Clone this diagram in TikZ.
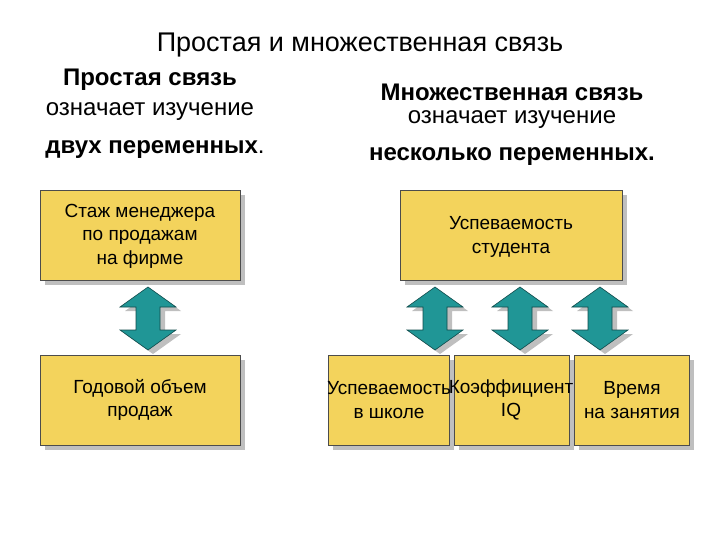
\documentclass[tikz,border=0pt]{standalone}
\usepackage{fontspec}
\setmainfont{Liberation Sans}
\begin{document}
\begin{tikzpicture}[x=1pt,y=-1pt,
  box/.style={draw=black!70,line width=0.6pt,fill=boxy,minimum height=90pt,inner sep=0pt,anchor=north west},
  btxt/.style={align=center,font=\fontsize{19}{23.5}\selectfont,inner sep=0pt},
  hdr/.style={font=\fontsize{24}{28}\selectfont,anchor=center}]
\definecolor{boxy}{RGB}{243,211,92}
\definecolor{teal1}{RGB}{32,150,150}
\useasboundingbox (0,0) rectangle (720,540);
\newcommand{\shbox}[5]{% name, x, y, w
  \fill[black!25] (#2+5,#3+5) rectangle ++(#4,90);
  \node[box,minimum width=#4] (#1) at (#2,#3) {};}
\newcommand{\dblarrow}[3]{% cx, ytop, ybot
  \fill[black!25,shift={(5,4)}] (#1,#2) -- (#1+28,#2+20) -- (#1+12,#2+20) -- (#1+12,#3-20) -- (#1+28,#3-20) -- (#1,#3) -- (#1-28,#3-20) -- (#1-12,#3-20) -- (#1-12,#2+20) -- (#1-28,#2+20) -- cycle;
  \draw[fill=teal1,draw=teal1!50!black,line width=0.6pt] (#1,#2) -- (#1+28,#2+20) -- (#1+12,#2+20) -- (#1+12,#3-20) -- (#1+28,#3-20) -- (#1,#3) -- (#1-28,#3-20) -- (#1-12,#3-20) -- (#1-12,#2+20) -- (#1-28,#2+20) -- cycle;}
\node[font=\fontsize{27}{30}\selectfont] (title) at (360,45) {Простая и множественная связь};
\node[hdr] (l1) at (150,80) {\bfseries Простая связь};
\node[hdr] (l2) at (150,112) {означает изучение};
\node[hdr] (l3) at (155,150) {\bfseries двух переменных\mdseries.};
\node[hdr] (r1) at (512,92) {\bfseries Множественная связь};
\node[hdr] (r2) at (512,120) {означает изучение};
\node[hdr] (r3) at (512,157) {\bfseries несколько переменных.};
\shbox{a}{40}{190}{200}{}
\shbox{b}{40}{355}{200}{}
\shbox{c}{400}{190}{222}{}
\shbox{d}{328}{355}{121}{}
\shbox{e}{454}{355}{115}{}
\shbox{f}{574}{355}{115}{}
\node[btxt] (ta) at (140,236) {Стаж менеджера\\по продажам\\на фирме};
\node[btxt] (tb) at (140,400) {Годовой объем\\продаж};
\node[btxt] (tc) at (511,237) {Успеваемость\\студента};
\node[btxt] (td) at (389,400) {Успеваемость\\в школе};
\node[btxt] (te) at (511,400) {Коэффициент\\IQ};
\node[btxt] (tf) at (632,400) {Время\\на занятия};
\dblarrow{148}{287}{350}
\dblarrow{435}{287}{350}
\dblarrow{520}{287}{350}
\dblarrow{600}{287}{350}
\end{tikzpicture}
\end{document}
